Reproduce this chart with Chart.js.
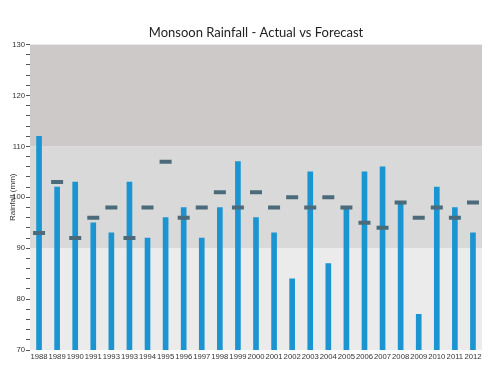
<!DOCTYPE html>
<html>
<head>
<meta charset="utf-8">
<script src="https://cdn.jsdelivr.net/npm/chart.js@4/dist/chart.umd.min.js"></script>
<style>
html,body{margin:0;padding:0;background:#fff;}
#wrap{width:500px;height:370px;position:relative;}
</style>
</head>
<body>
<div id="wrap"><canvas id="c" width="500" height="370"></canvas></div>
<script>
const years = ['1988','1989','1990','1991','1993','1993','1994','1995','1996','1997','1998','1999','2000','2001','2002','2003','2004','2005','2006','2007','2008','2009','2010','2011','2012'];
const actual = [112,102,103,95,93,103,92,96,98,92,98,107,96,93,84,105,87,98,105,106,99,77,102,98,93];
const forecast = [93,103,92,96,98,92,98,107,96,98,101,98,101,98,100,98,100,98,95,94,99,96,98,96,99];
const bandEdges = [70,90,110,130];
const bandColors = ['#ebebeb','#d9d9d9','#cdc9c9'];

const bandPlugin = {
  id:'bands',
  beforeDatasetsDraw(chart){
    const {ctx, chartArea, scales:{y}} = chart;
    ctx.save();
    for(let i=0;i<bandColors.length;i++){
      const top = y.getPixelForValue(bandEdges[i+1]);
      const bot = y.getPixelForValue(bandEdges[i]);
      ctx.fillStyle = bandColors[i];
      ctx.fillRect(chartArea.left, top, chartArea.right-chartArea.left, bot-top);
    }
    ctx.restore();
  }
};

const tickFont = {family:'"Liberation Sans", Arial, sans-serif', size:7.7};

new Chart(document.getElementById('c'), {
  type:'bar',
  data:{
    labels: years,
    datasets:[
      {type:'bar', label:'Actual', data: actual, backgroundColor:'#1b95d2', barThickness:5, order:2},
      {type:'line', label:'Forecast', data: forecast, showLine:false, pointStyle:'line',
       pointRadius:6, pointHoverRadius:6, borderWidth:4, borderColor:'#4b6b7a', pointBorderColor:'#4b6b7a', order:1}
    ]
  },
  options:{
    responsive:false,
    animation:false,
    layout:{padding:{left:0,right:18,top:0,bottom:0}},
    plugins:{
      legend:{display:false},
      tooltip:{enabled:false},
      title:{display:true, text:'Monsoon Rainfall - Actual vs Forecast', fullSize:false,
        color:'#222', font:{family:'Lato, "Open Sans", sans-serif', size:13, weight:'normal'},
        padding:{top:25, bottom:4}}
    },
    scales:{
      x:{
        grid:{display:false, drawTicks:false},
        border:{display:false},
        ticks:{autoSkip:false, maxRotation:0, minRotation:0, padding:2, color:'#333', font:tickFont},
        afterFit(s){ s.height = 20; }
      },
      y:{
        min:70, max:130,
        grid:{drawOnChartArea:false, tickLength:4, color:'#555'},
        border:{display:false},
        ticks:{stepSize:2, autoSkip:false, padding:1, color:'#333', font:tickFont,
          callback:(v)=> (v%10===0 ? String(v) : '')},
        title:{display:true, text:'Rainfall (mm)', color:'#333',
          font:{family:'"Liberation Sans", Arial, sans-serif', size:8}, padding:{top:8,bottom:0}},
        afterFit(s){ s.width = 30; }
      }
    }
  },
  plugins:[bandPlugin]
});
</script>
</body>
</html>
